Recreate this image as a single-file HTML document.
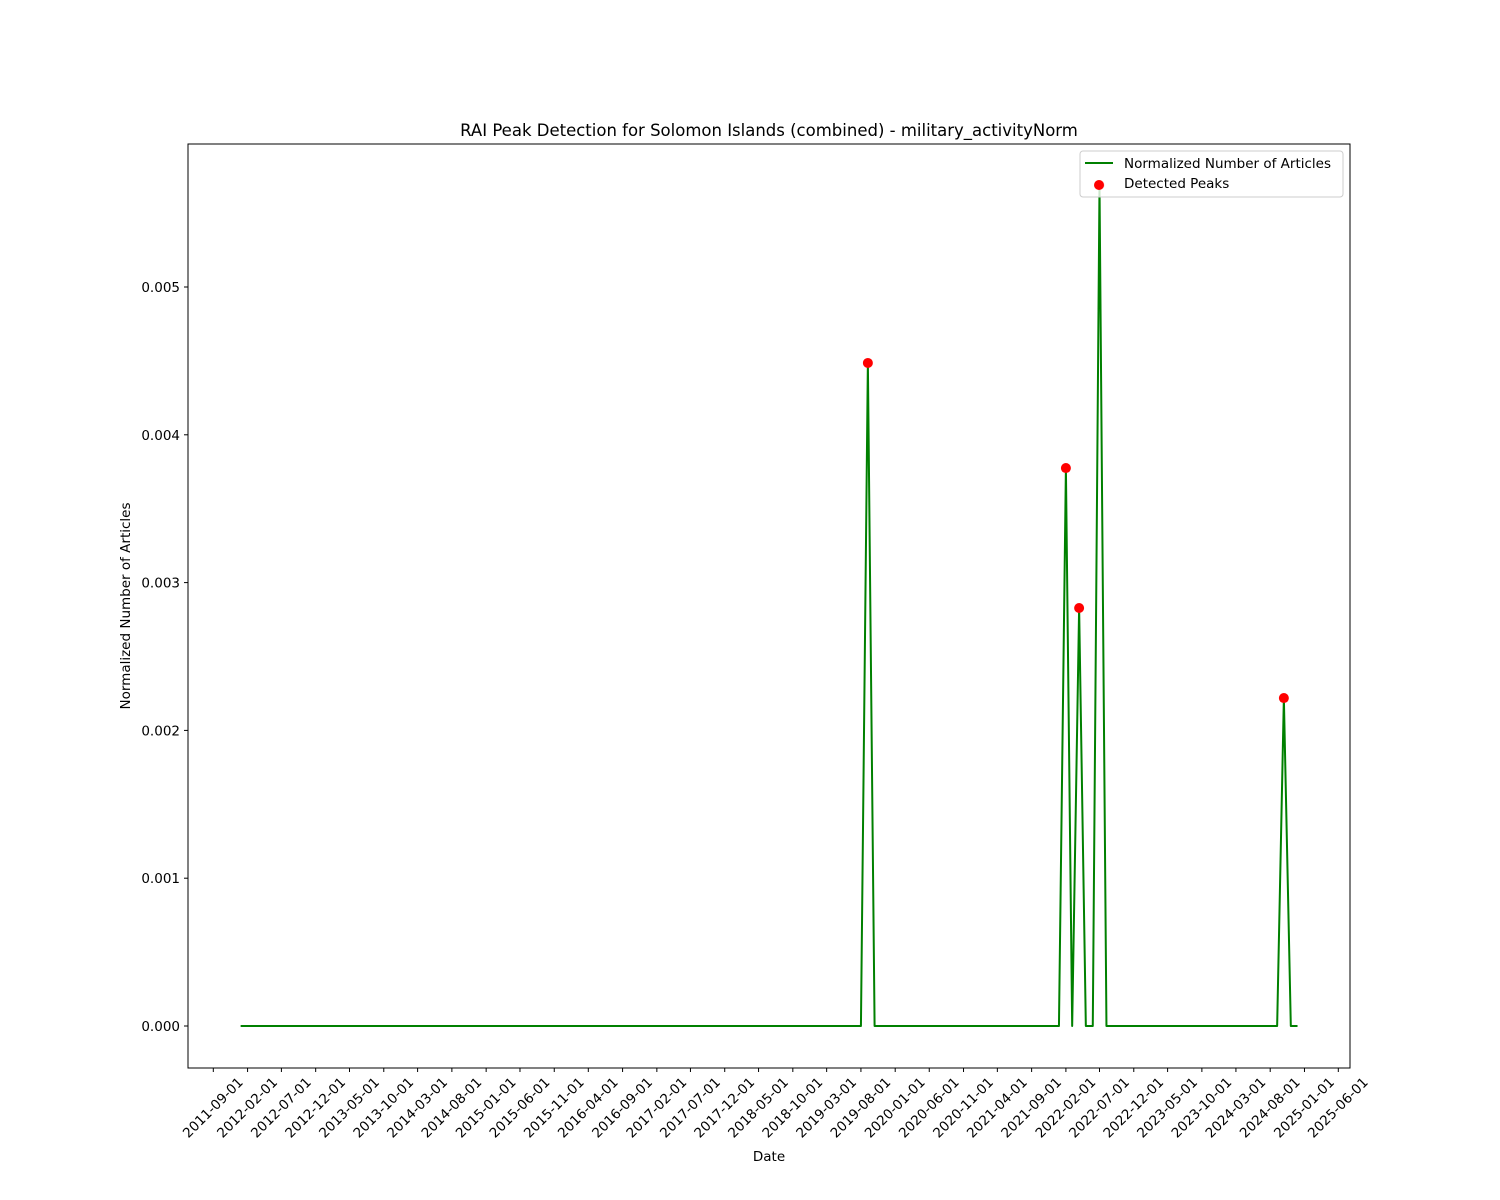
<!DOCTYPE html>
<html><head><meta charset="utf-8"><style>
html,body{margin:0;padding:0;background:#fff;}
svg{display:block;font-family:"DejaVu Sans","Liberation Sans",sans-serif;}
</style></head><body>
<svg id="chart" width="1500" height="1200" xmlns="http://www.w3.org/2000/svg">
<rect width="1500" height="1200" fill="#fff"/>
<text x="769" y="136" font-size="16.5" text-anchor="middle">RAI Peak Detection for Solomon Islands (combined) - military_activityNorm</text>
<text x="769" y="1161" font-size="13.5" text-anchor="middle">Date</text>
<text transform="translate(130,606) rotate(-90)" font-size="13.5" text-anchor="middle">Normalized Number of Articles</text>
<g id="yticks"></g>
<g id="xticks"></g>
<g id="plot"></g>
<rect x="188" y="144" width="1162" height="924" fill="none" stroke="#000" stroke-width="1"/>
<g>
<rect x="1080" y="151" width="263" height="46" rx="3" fill="#fff" fill-opacity="0.8" stroke="#ccc"/>
<line x1="1085" y1="163" x2="1113" y2="163" stroke="green" stroke-width="2"/>
<text x="1124" y="168" font-size="13.5">Normalized Number of Articles</text>
<circle cx="1099" cy="185" r="5" fill="red"/>
<text x="1124" y="188" font-size="13.5">Detected Peaks</text>
</g>
</svg>
<script>
const nMonths = 156; // 2012-01 .. 2024-12
const nonZeroMonths = ["2019-09","2022-02","2022-04","2022-07","2024-10"];
const nonZeroValues = [0.004486,0.003775,0.002828,0.00569,0.002219];
const peakMonths = ["2019-09","2022-02","2022-04","2022-07","2024-10"];
const peakValues = [0.004486,0.003775,0.002828,0.00569,0.002219];
const yTickValues = [0,0.001,0.002,0.003,0.004,0.005];
const yTickLabels = ["0.000","0.001","0.002","0.003","0.004","0.005"];
const xTickLabels = ["2011-09-01","2012-02-01","2012-07-01","2012-12-01","2013-05-01","2013-10-01","2014-03-01","2014-08-01","2015-01-01","2015-06-01","2015-11-01","2016-04-01","2016-09-01","2017-02-01","2017-07-01","2017-12-01","2018-05-01","2018-10-01","2019-03-01","2019-08-01","2020-01-01","2020-06-01","2020-11-01","2021-04-01","2021-09-01","2022-02-01","2022-07-01","2022-12-01","2023-05-01","2023-10-01","2024-03-01","2024-08-01","2025-01-01","2025-06-01"];

const NS="http://www.w3.org/2000/svg";
const day0=Date.UTC(2011,8,1), pxPerDay=1125/5022;
function xScale(d){const p=d.split("-");const t=Date.UTC(+p[0],+p[1]-1,p[2]?+p[2]:1);return 213.3+(t-day0)/86400000*pxPerDay;}
const y0=1026, pxPerUnit=147.8/0.001;
function yScale(v){return y0-v*pxPerUnit;}
function mk(tag,attrs,parent){const e=document.createElementNS(NS,tag);for(const k in attrs)e.setAttribute(k,attrs[k]);parent.appendChild(e);return e;}

const yt=document.getElementById("yticks");
yTickValues.forEach((v,i)=>{const y=yScale(v);
 const l=mk("line",{x1:184,x2:188,y1:y,y2:y,stroke:"#000"},yt);
 
 
 const t=mk("text",{x:180,y:y+5,"font-size":13.5,"text-anchor":"end"},yt);t.textContent=yTickLabels[i];
 
 
});
const xt=document.getElementById("xticks");
xTickLabels.forEach(lab=>{const x=xScale(lab);
 const l=mk("line",{x1:x,x2:x,y1:1068,y2:1072,stroke:"#000"},xt);
 
 
 const t=mk("text",{transform:`translate(${x},${1108}) rotate(-45)`,"font-size":13.5,"text-anchor":"middle","dominant-baseline":"central"},xt);t.textContent=lab;
 
 
});
const plot=document.getElementById("plot");
const pts=[];
for(let i=0;i<nMonths;i++){const yr=2012+Math.floor(i/12), m=i%12+1;const key=yr+"-"+String(m).padStart(2,"0");
 const k=nonZeroMonths.indexOf(key);const v=k>=0?nonZeroValues[k]:0;pts.push(xScale(key).toFixed(2)+","+yScale(v).toFixed(2));}
const pl=mk("polyline",{points:pts.join(" "),fill:"none",stroke:"green","stroke-width":2,"stroke-linejoin":"round"},plot);


peakMonths.forEach((m,i)=>{const c=mk("circle",{cx:xScale(m),cy:yScale(peakValues[i]),r:5,fill:"red"},plot);
 
 
});
</script>
</body></html>
